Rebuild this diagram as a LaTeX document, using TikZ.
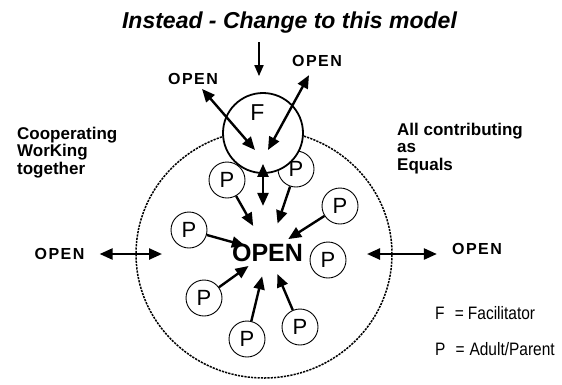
\documentclass[tikz,border=0pt]{standalone}
\usepackage{fontspec}
\setmainfont{Liberation Sans}
\usetikzlibrary{arrows.meta, calc, positioning}

\newcommand{\openword}{O\kern1.5pt P\kern1.5pt E\kern1.5pt N}

\begin{document}
\begin{tikzpicture}[x=1pt, y=-1pt,
    arr/.style={line width=2.4pt, -{Triangle[length=13pt,width=11pt]}},
    dblarr/.style={line width=2.4pt, {Triangle[length=13pt,width=11pt]}-{Triangle[length=13pt,width=11pt]}},
    parent/.style={circle, draw, line width=0.9pt, fill=white, minimum size=36pt, inner sep=0pt, font=\fontsize{22}{22}\selectfont},
    lbl/.style={anchor=base, inner sep=0pt, font=\fontsize{16}{16}\selectfont\bfseries},
    note/.style={anchor=north west, inner sep=0pt, align=left, font=\fontsize{17}{17.5}\selectfont\bfseries},
    key/.style={anchor=base west, inner sep=0pt, font=\fontsize{18}{18}\selectfont}]

\useasboundingbox (0,0) rectangle (562,384);

\node[anchor=base, inner sep=0pt, font=\fontsize{23}{23}\selectfont\bfseries\itshape] (title) at (289.5,28) {Instead - Change to this model};

% the group
\draw[line width=1.5pt, dash pattern=on 2.2pt off 1.1pt] (264,254) ellipse [x radius=128pt, y radius=124pt];

\node[parent] (p1) at (227,180) {P};
\node[parent] (p2) at (296,169) {P};
\node[parent] (p3) at (340,206) {P};
\node[parent] (p4) at (189,230) {P};
\node[parent] (p5) at (328,260) {P};
\node[parent] (p6) at (204,298) {P};
\node[parent] (p7) at (247,339) {P};
\node[parent] (p8) at (300,327) {P};

\node[inner sep=0pt, font=\fontsize{25}{25}\selectfont\bfseries] (open) at (267.5,252.5) {OPEN};
\coordinate (hub) at (268,252);

\draw[arr, shorten >=30pt] (p1) -- (hub);
\draw[arr, shorten >=30pt] (p2) -- (hub);
\draw[arr, shorten >=24pt] (p3) -- (hub);
\draw[arr, shorten >=24pt] (p4) -- (hub);
\draw[arr, shorten >=24pt] (p6) -- (hub);
\draw[arr, shorten >=25pt] (p7) -- (hub);
\draw[arr, shorten >=24pt] (p8) -- (hub);

% facilitator
\node[circle, draw, line width=1.8pt, fill=white, minimum size=80pt, inner sep=0pt] (f) at (263,133) {};
\node[anchor=base, inner sep=0pt, font=\fontsize{23}{23}\selectfont] (fname) at (257.5,120) {F};

\node[lbl] (otl) at (193,84) {\openword};
\node[lbl] (otr) at (317,66) {\openword};
\coordinate (fl) at (255,150);
\coordinate (fr) at (268,150);
\draw[dblarr, shorten <=6pt] (otl) -- (fl);
\draw[dblarr, shorten <=10pt] (otr) -- (fr);

\coordinate (fdown) at ($(f.south)+(0,32)$);
\draw[dblarr] ([yshift=10pt]f.south) -- (fdown);

\coordinate (drop) at (259,42);
\draw[line width=1.8pt, -{Triangle[length=11pt,width=9pt]}, shorten >=16pt] (drop) -- (f.north -| drop);

% open to the outside
\node[lbl] (oleft) at (59.5,259) {\openword};
\node[lbl] (oright) at (477,254) {\openword};
\coordinate (cl) at (162,254);
\coordinate (cr) at (367,254);
\draw[dblarr, shorten <=15pt] (oleft.east |- cl) -- (cl);
\draw[dblarr, shorten >=15pt] (cr) -- (oright.west |- cr);

\node[note] (coop) at (17,126.6) {Cooperating\\WorKing\\together};
\node[note] (equals) at (397,122.6) {All contributing\\as\\Equals};

% key
\node[key] (keyf) at (435,319) {\scalebox{0.86}[1]{F\hspace{12pt}=\hspace{4.6pt}Facilitator}};
\node[key] (keyp) at (435,355) {\scalebox{0.86}[1]{P\hspace{11.6pt}=\hspace{5.8pt}Adult/Parent}};
\end{tikzpicture}
\end{document}
